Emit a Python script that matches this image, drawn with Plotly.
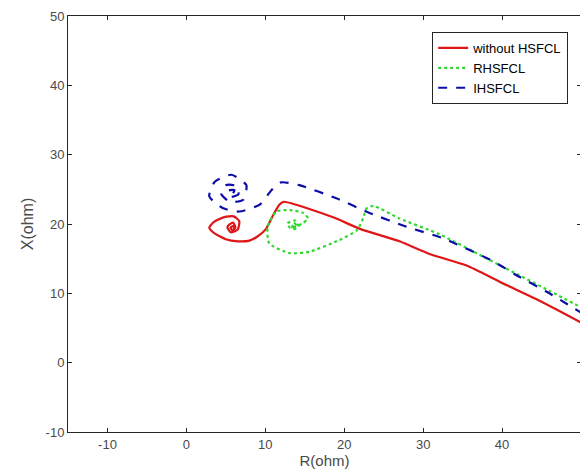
import plotly.graph_objects as go

# Impedance trajectories (R, X) in ohm
red_r = [50.5, 45.0, 40.0, 35.5, 31.0, 27.0, 22.0, 18.5, 12.3, 11.8, 11.0, 10.1, 9.0, 8.0, 6.5, 5.0, 3.5, 2.9, 3.5, 4.8, 6.0, 6.7, 6.5, 5.6, 5.2, 5.9, 6.2, 5.8, 5.6, 5.9, 6.1, 5.7]
red_x = [5.5, 8.8, 11.5, 14.0, 15.6, 17.5, 19.3, 21.0, 23.2, 22.8, 21.3, 19.3, 18.2, 17.6, 17.5, 17.8, 18.7, 19.5, 20.3, 21.0, 21.1, 20.4, 19.2, 18.8, 19.6, 20.2, 19.5, 19.1, 19.5, 19.7, 19.3, 19.0]

green_r = [50.3, 46.1, 41.5, 37.6, 32.1, 27.0, 23.7, 22.8, 22.4, 21.6, 19.4, 15.6, 13.1, 10.5, 10.3, 11.4, 13.1, 14.8, 15.4, 14.6, 13.2, 12.8, 13.8, 14.2, 13.4, 13.6, 13.9, 13.3]
green_x = [7.8, 10.3, 13.0, 15.3, 18.5, 20.8, 22.6, 22.2, 20.8, 19.1, 17.7, 16.0, 15.8, 17.2, 19.6, 21.8, 22.0, 21.6, 20.8, 20.0, 19.4, 20.1, 20.5, 19.6, 19.2, 20.2, 19.8, 19.5]

blue_r = [50.3, 45.7, 42.0, 38.9, 32.6, 27.9, 23.2, 19.0, 14.3, 12.0, 10.8, 9.3, 6.7, 4.6, 2.9, 3.6, 5.7, 7.6, 7.2, 5.5, 4.4, 5.0, 6.3, 6.6, 5.6, 5.3, 6.1, 5.8, 5.9]
blue_x = [7.0, 10.2, 12.5, 14.6, 17.9, 19.6, 21.6, 23.7, 25.6, 26.0, 24.9, 22.8, 21.8, 22.3, 24.0, 26.1, 27.1, 25.6, 23.5, 23.2, 24.4, 25.6, 25.5, 24.3, 23.9, 24.8, 24.9, 24.2, 24.5]

x_ticks = [-10, 0, 10, 20, 30, 40, 50]
y_ticks = [-10, 0, 10, 20, 30, 40, 50]

FONT = "Liberation Sans, Arial"
GRAY = "#4a4a4a"

fig = go.Figure()
fig.add_trace(go.Scatter(x=red_r, y=red_x, mode="lines", name="without HSFCL",
                         line=dict(color="#e01515", width=2.2, dash="solid", shape="spline", smoothing=0.6)))
fig.add_trace(go.Scatter(x=green_r, y=green_x, mode="lines", name="RHSFCL",
                         line=dict(color="#2fd82f", width=2.2, dash="dot", shape="spline", smoothing=0.6)))
fig.add_trace(go.Scatter(x=blue_r, y=blue_x, mode="lines", name="IHSFCL",
                         line=dict(color="#0c0caa", width=2.2, dash="dash", shape="spline", smoothing=0.6)))

axis_common = dict(showgrid=False, zeroline=False, showline=True, linecolor="#262626",
                   linewidth=1, mirror="ticks", ticks="inside", ticklen=4, automargin=False,
                   tickcolor="#262626", tickfont=dict(family=FONT, size=13, color=GRAY))

fig.update_xaxes(range=[-15, 50], tickvals=x_ticks, ticktext=[str(v) for v in x_ticks],
                 title=dict(text="R(ohm)", font=dict(family=FONT, size=15, color=GRAY), standoff=4),
                 **axis_common)
fig.update_yaxes(range=[-10, 50], tickvals=y_ticks, ticktext=[str(v) for v in y_ticks],
                 title=dict(text="X(ohm)", font=dict(family=FONT, size=16, color=GRAY), standoff=8),
                 **axis_common)

# the page adds an 8px body margin, so the figure is sized to fit the 588x475 window
fig.update_layout(
    width=580, height=467,
    margin=dict(l=60, r=7, t=8, b=43),
    paper_bgcolor="white", plot_bgcolor="white",
    showlegend=True,
    legend=dict(x=0.975, y=0.9615, xanchor="right", yanchor="top",
                bgcolor="white", bordercolor="#262626", borderwidth=1,
                font=dict(family=FONT, size=13, color="#000000"),
                tracegroupgap=0, itemwidth=30),
)

fig.write_html("out.html")
